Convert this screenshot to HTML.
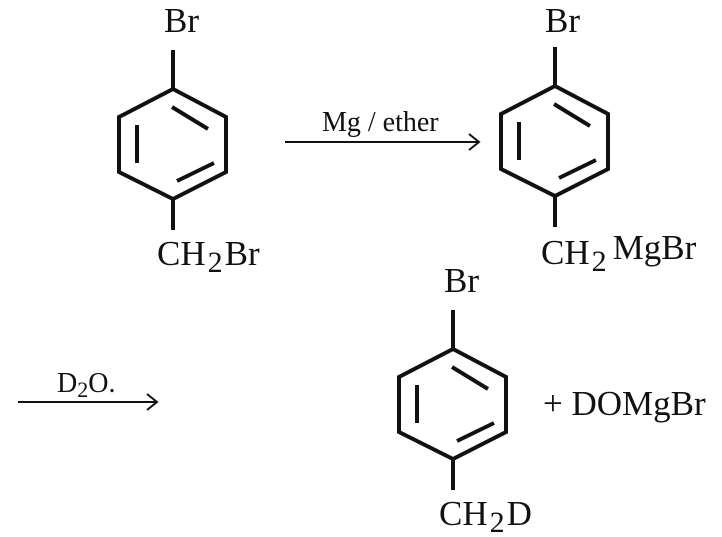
<!DOCTYPE html>
<html><head><style>
html,body{margin:0;padding:0;background:#fff;}
svg{display:block;}
text{font-family:"Liberation Serif",serif;fill:#111;}
</style></head><body>
<svg width="722" height="537" viewBox="0 0 722 537" xmlns="http://www.w3.org/2000/svg">
<defs>
<g id="ring" fill="none" stroke="#111" stroke-width="4" stroke-linejoin="miter">
<polygon points="0,0 53,28 53,83 0,110 -54,83 -54,28"/>
<line x1="-36" y1="36" x2="-36" y2="74"/>
<line x1="-1" y1="18" x2="35" y2="40"/>
<line x1="4" y1="92" x2="41" y2="74"/>
<line x1="0" y1="-39" x2="0" y2="0"/>
<line x1="0" y1="110" x2="0" y2="141"/>
</g>
</defs>
<use href="#ring" x="173" y="89"/>
<use href="#ring" x="555" y="86"/>
<use href="#ring" x="453" y="349"/>
<g font-size="35">
<text x="164" y="32">Br</text>
<text x="157" y="265">CH<tspan font-size="30" dx="2" dy="7">2</tspan><tspan dx="2" dy="-7">Br</tspan></text>
<text x="545" y="32">Br</text>
<text x="541" y="264">CH<tspan font-size="30" dx="2" dy="7">2</tspan><tspan dx="6" dy="-12">MgBr</tspan></text>
<text x="444" y="292">Br</text>
<text x="439" y="525">CH<tspan font-size="30" dx="2" dy="7">2</tspan><tspan dx="2" dy="-7">D</tspan></text>
<text x="543" y="415">+ DOMgBr</text>
</g>
<g stroke="#111" stroke-width="2" fill="none">
<line x1="285" y1="142" x2="478" y2="142"/>
<polyline points="469,134 479,142 469,150"/>
<line x1="18" y1="402" x2="156" y2="402"/>
<polyline points="147,394 157,402 147,410"/>
</g>
<text x="322" y="131" font-size="28">Mg / ether</text>
<text x="57" y="392" font-size="28">D<tspan font-size="22" dy="5">2</tspan><tspan dy="-5">O.</tspan></text>
</svg>
</body></html>
